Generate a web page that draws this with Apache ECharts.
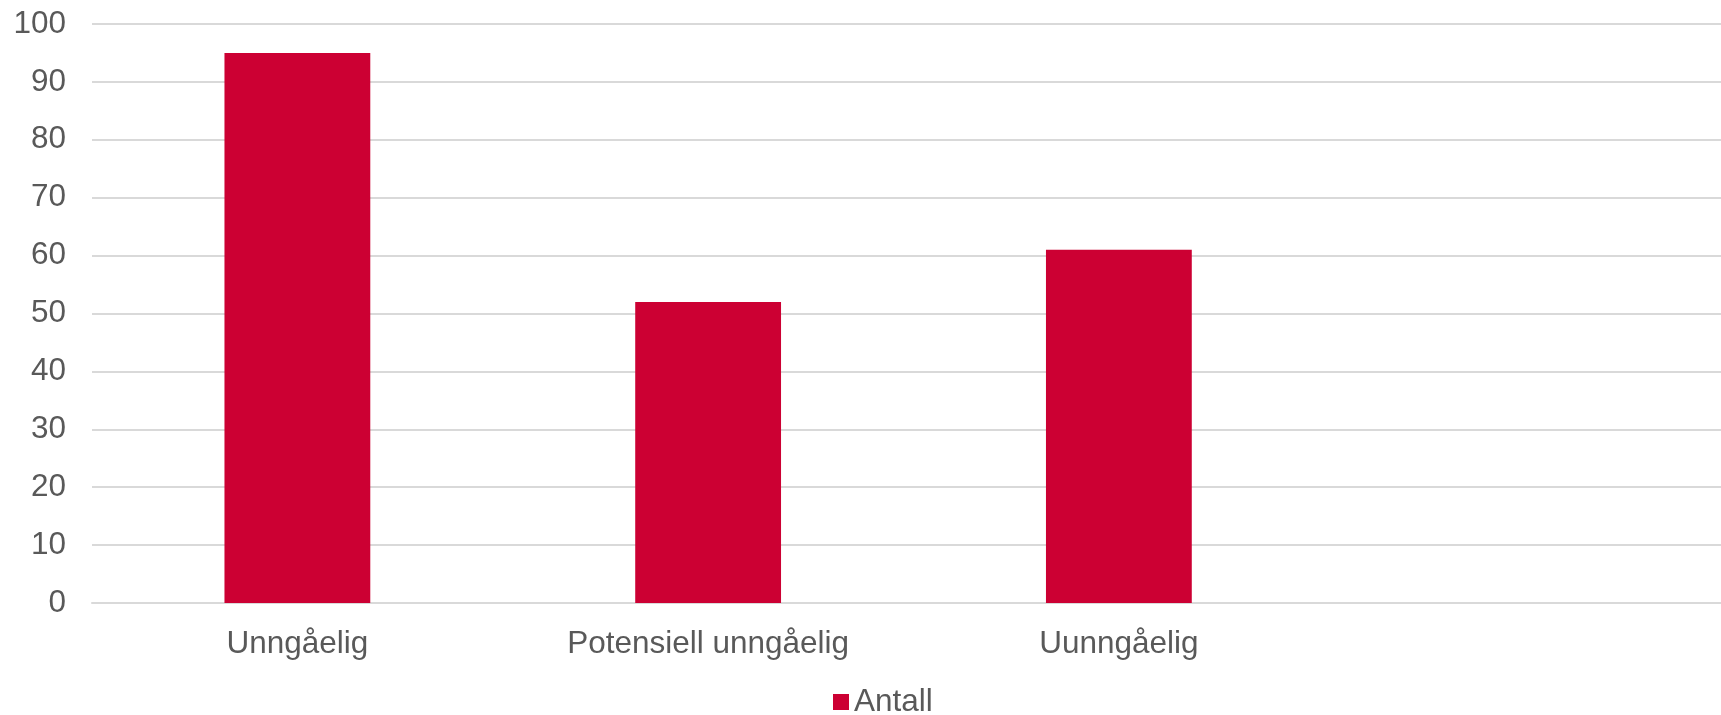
<!DOCTYPE html>
<html>
<head>
<meta charset="utf-8">
<script src="https://cdn.jsdelivr.net/npm/echarts@6/dist/echarts.min.js"></script>
<style>
  html, body { margin: 0; padding: 0; background: #ffffff; }
  #chart { width: 1721px; height: 715px; }
</style>
</head>
<body>
<div id="chart"></div>
<script>
// Categories (the fourth slot is an empty column)
const categories = ['Unngåelig', 'Potensiell unngåelig', 'Uunngåelig', ''];
// Number of cases per category
const antall = [95, 52, 61, null];
const seriesName = 'Antall';

const textColor = '#595959';
const gridColor = '#d9d9d9';
const barColor = '#cc0033';
const fontFamily = '"Liberation Sans", Arial, sans-serif';

const chart = echarts.init(document.getElementById('chart'), null, { renderer: 'canvas' });
chart.setOption({
  animation: false,
  backgroundColor: '#ffffff',
  textStyle: { fontFamily: fontFamily },
  // the plot runs slightly past the right edge of the canvas
  grid: { left: 92, top: 24, right: -14, bottom: 112, containLabel: false, outerBoundsMode: 'none' },
  legend: {
    data: [seriesName],
    top: 686,
    left: 833,
    padding: 0,
    itemWidth: 16,
    itemHeight: 16,
    itemGap: 9,
    icon: 'rect',
    textStyle: { color: textColor, fontSize: 31.5, fontFamily: fontFamily }
  },
  xAxis: {
    type: 'category',
    data: categories,
    axisLine: { show: true, lineStyle: { color: gridColor, width: 2 } },
    axisTick: { show: false },
    axisLabel: { color: textColor, fontSize: 31.5, margin: 25, fontFamily: fontFamily, interval: 0 },
    splitLine: { show: false }
  },
  yAxis: {
    type: 'value',
    min: 0,
    max: 100,
    interval: 10,
    axisLine: { show: false },
    axisTick: { show: false },
    axisLabel: { color: textColor, fontSize: 31.5, margin: 26, fontFamily: fontFamily },
    splitLine: { lineStyle: { color: gridColor, width: 2 } }
  },
  series: [{
    name: seriesName,
    type: 'bar',
    data: antall,
    barWidth: '35.5%',
    itemStyle: { color: barColor }
  }]
});
</script>
</body>
</html>
